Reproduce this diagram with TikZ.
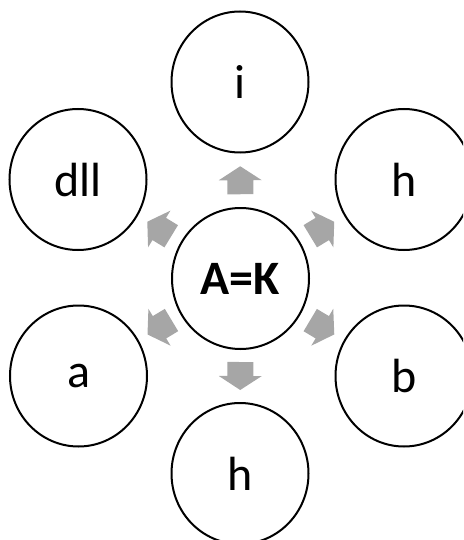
\documentclass[tikz,border=0pt]{standalone}
\usepackage{fontspec}
\setmainfont{Carlito}
\usetikzlibrary{calc,shapes.geometric}
\definecolor{arrowgray}{RGB}{166,166,166}
\begin{document}
\begin{tikzpicture}[x=1pt,y=-1pt,
  bubble/.style={draw=black, line width=2pt, ellipse, fill=white,
    minimum width=137pt, minimum height=141pt, inner sep=0pt,
    font=\fontsize{48}{52}\selectfont},
  hub/.style={bubble, font=\fontsize{48}{52}\selectfont\bfseries},
  blockarrow/.style={fill=arrowgray}]
\clip (0,0) rectangle (463,540);

% central circle
\node[hub] (ctr) at (240.5,278.5) {A=K};

% surrounding circles
\node[bubble] (top) at (240,82)    {i};
\node[bubble] (ur)  at (404,179.5) {h};
\node[bubble] (lr)  at (404,376)   {b};
\node[bubble] (bot) at (240,473.5) {h};
\node[bubble] (ll)  at (78.5,376)  {a};
\node[bubble] (ul)  at (78,179.5)  {dll};

% block arrows from the hub towards each outer circle
\foreach \o in {top,ur,lr,bot,ll,ul} {
  \fill[blockarrow]
    let \p1 = ($(\o)-(ctr)$),
        \n1 = {atan2(\y1,\x1)},
        \p2 = ($(ctr)!0.5!(\o)$)
    in [shift={(\p2)}, rotate=\n1]
    (-14,-13) -- (0,-13) -- (0,-21.5) -- (14,0) -- (0,21.5) -- (0,13) -- (-14,13) -- cycle;
}
\end{tikzpicture}
\end{document}
